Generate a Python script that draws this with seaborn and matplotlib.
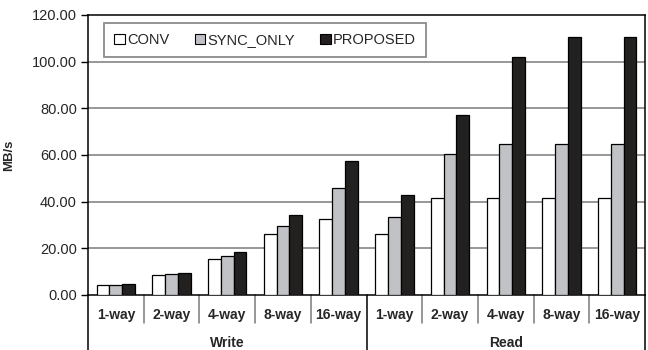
import matplotlib
matplotlib.use("Agg")
import matplotlib.pyplot as plt
import seaborn as sns
import pandas as pd
from matplotlib.patches import Patch

# Throughput data (MB/s)
groups = ["Write", "Read"]
ways = ["1-way", "2-way", "4-way", "8-way", "16-way"]
series = ["CONV", "SYNC_ONLY", "PROPOSED"]
conv = [4.4, 8.4, 15.3, 26.0, 32.4, 26.0, 41.6, 41.6, 41.6, 41.6]
sync_only = [4.4, 8.9, 16.7, 29.7, 46.0, 33.6, 60.4, 64.9, 64.9, 64.9]
proposed = [4.9, 9.4, 18.3, 34.3, 57.3, 42.9, 77.1, 101.9, 110.7, 110.7]
y_ticks = [0, 20, 40, 60, 80, 100, 120]

colors = {"CONV": "#ffffff", "SYNC_ONLY": "#c0c1c7", "PROPOSED": "#231f20"}

cats = [f"{g} {w}" for g in groups for w in ways]
rows = []
for name, vals in zip(series, [conv, sync_only, proposed]):
    for c, v in zip(cats, vals):
        rows.append({"cat": c, "series": name, "value": v})
df = pd.DataFrame(rows)

sns.set_theme(style="white")
plt.rcParams["font.family"] = ["Liberation Sans", "DejaVu Sans"]

fig = plt.figure(figsize=(6.48, 3.5), dpi=100)
W, H = 648, 350
ax = fig.add_axes([88 / W, (H - 295) / H, 557 / W, 280 / H])

sns.barplot(data=df, x="cat", y="value", hue="series", order=cats,
            hue_order=series, palette=colors, width=0.69, gap=0,
            edgecolor="black", linewidth=0.9, legend=False, ax=ax,
            zorder=3)

ax.set_ylim(0, 120)
ax.set_xlim(-0.5, len(cats) - 0.5)
ax.set_yticks(y_ticks)
ax.set_yticklabels([f"{t:.2f}" for t in y_ticks], fontsize=10.5)
ax.tick_params(axis="y", direction="out", length=5, width=1, color="black",
               left=True, pad=3)
ax.tick_params(axis="x", length=0, pad=9)
ax.set_xticks(range(len(cats)))
ax.set_xticklabels(ways * len(groups), fontsize=10, fontweight="bold")
ax.set_xlabel("")
ax.set_ylabel("MB/s", fontsize=9.5, fontweight="bold")
ax.yaxis.set_label_coords(-0.131, 0.5)

ax.grid(False)
for t in y_ticks[1:-1]:
    ax.axhline(t, color="#7a7a7a", linewidth=1.1, zorder=1)

for s in ax.spines.values():
    s.set_color("black")
    s.set_linewidth(1.1)

# Category separators and group dividers below the axis
tr = ax.get_xaxis_transform()
n = len(ways)
for i in range(1, len(cats)):
    x = i - 0.5
    bottom = -0.196 if i % n == 0 else -0.1
    ax.plot([x, x], [0, bottom], transform=tr, color="#7a7a7a" if i % n else "black",
            linewidth=1.1, clip_on=False)
for x in (-0.5, len(cats) - 0.5):
    ax.plot([x, x], [0, -0.196], transform=tr, color="black", linewidth=1.1,
            clip_on=False)
for gi, g in enumerate(groups):
    ax.text(gi * n + (n - 1) / 2, -0.173, g, transform=tr, ha="center",
            va="center", fontsize=10, fontweight="bold")

handles = [Patch(facecolor=colors[s], edgecolor="black", linewidth=0.8, label=s)
           for s in series]
leg = ax.legend(handles=handles, loc="upper left", bbox_to_anchor=(0.029, 0.972),
                borderaxespad=0, ncol=3, fontsize=10.5, frameon=True,
                fancybox=False, handlelength=0.75, handleheight=0.75,
                handletextpad=0.15, columnspacing=1.7, borderpad=0.7)
leg.get_frame().set_edgecolor("#6e6e6e")
leg.get_frame().set_linewidth(1.3)
leg.set_zorder(5)

fig.savefig("out.png", dpi=100)
